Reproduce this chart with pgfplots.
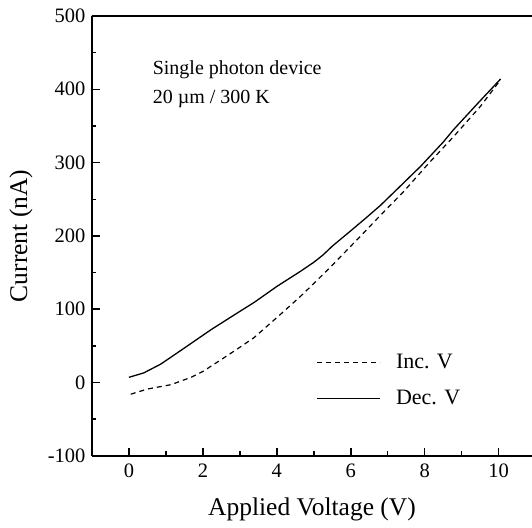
\documentclass[border=0pt]{standalone}
\usepackage{fontspec}
\setmainfont{Liberation Serif}
\usepackage{pgfplots}
\pgfplotsset{compat=1.18}
\begin{document}
\begin{tikzpicture}
\path[use as bounding box] (-92bp,-72bp) rectangle (440.3bp,456bp);
\begin{axis}[
  scale only axis, width=440.3bp, height=440bp,
  xmin=-1, xmax=10.9, ymin=-100, ymax=500,
  axis x line*=bottom, axis y line*=left,
  xtick={0,2,...,10}, ytick={-100,0,...,500},
  minor x tick num=1, minor y tick num=1,
  tick align=inside,
  major tick length=8bp, minor tick length=4.5bp,
  every tick/.style={black, line width=1.4bp},
  axis line style={line width=1.8bp},
  /pgf/number format/assume math mode=true,
  ticklabel style={font=\fontsize{20.5bp}{22bp}\selectfont},
  xticklabel shift=5bp,
  yticklabel style={xshift=-3bp},
  xlabel={Applied Voltage (V)},
  ylabel={Current (nA)},
  xlabel style={at={(rel axis cs:0.5,0)}, anchor=center, yshift=-54bp, font=\fontsize{25.5bp}{27bp}\selectfont},
  ylabel style={at={([xshift=-71bp]rel axis cs:0,0.5)}, anchor=center, rotate=0, font=\fontsize{25.5bp}{27bp}\selectfont},
  legend style={at={(rel axis cs:0.511,0.1716)}, anchor=west, draw=none, fill=none,
    inner sep=0pt, outer sep=0pt, row sep=20bp, column sep=15bp,
    font=\fontsize{22bp}{24bp}\selectfont,
    nodes={inner sep=0pt}},
  legend cell align=left,
  legend image code/.code={\draw[#1] (0bp,0bp) -- (63bp,0bp);},
]
\addplot[black, line width=1.2bp, dash pattern=on 5bp off 4bp] coordinates {
(0.05,-16) (0.5,-9) (1.14,-3) (1.68,7) (2,15) (2.49,31) (3,48) (3.38,61)
(4.1,93) (4.65,118) (5,135) (5.5,160) (6.27,200) (6.8,228) (7.44,261)
(8.07,297) (8.79,336) (9.51,377) (10.05,413)
};
\addlegendentry{Inc. V}
\addplot[black, line width=1.3bp] coordinates {
(0,7) (0.4,13) (0.86,25) (1.5,47) (2.22,72) (3,97) (3.38,109) (4,131)
(4.65,152) (5,164) (5.25,174) (5.5,186) (6,207) (6.4,224) (6.81,242)
(7.3,266) (7.89,295) (8.5,328) (8.78,345) (9.4,379) (10.05,414)
};
\addlegendentry{Dec. V}
\draw[line width=1.8bp] ([xshift=-0.9bp]rel axis cs:0,1) -- (rel axis cs:1,1);
\node[anchor=north west, inner sep=0pt, align=left,
  font=\fontsize{20bp}{29bp}\selectfont] at (axis cs:0.64,439)
  {Single photon device\\20 µm / 300 K};
\end{axis}
\end{tikzpicture}
\end{document}
